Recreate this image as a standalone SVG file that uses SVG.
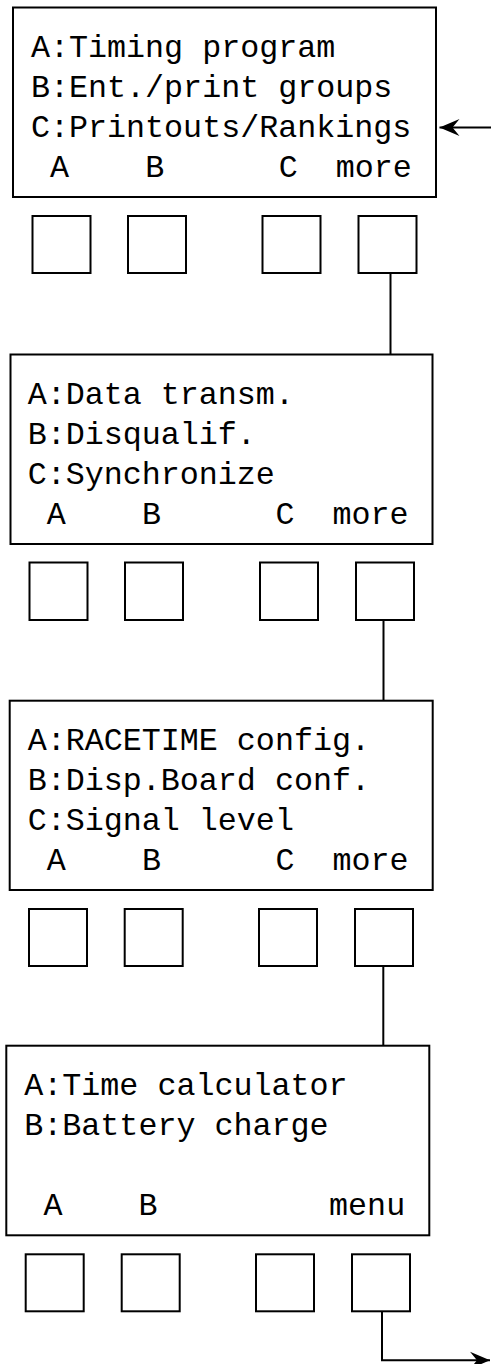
<svg xmlns="http://www.w3.org/2000/svg" width="491" height="1364" viewBox="0 0 491 1364">
<style>
  .panel { fill: #ffffff; stroke: #000000; stroke-width: 2; }
  .btn { fill: #ffffff; stroke: #000000; stroke-width: 2; }
  .lbl { font-family: "Liberation Mono", "Courier New", monospace; font-size: 31.7px; fill: #000000; }
  .wire { fill: none; stroke: #000000; stroke-width: 2; }
</style>
<defs>
  <marker id="arrow" markerUnits="userSpaceOnUse" viewBox="-20 -10 21 20" markerWidth="21" markerHeight="20" refX="0" refY="0" orient="auto">
    <path d="M0,0 L-20,-8.5 L-13,0 L-20,8.5 Z" fill="#000000"/>
  </marker>
</defs>
<rect width="491" height="1364" fill="#ffffff"/>

<g id="connectors">
  <line class="wire" x1="491" y1="127.5" x2="439.5" y2="127.5" marker-end="url(#arrow)"/>
  <line class="wire" x1="390.5" y1="273" x2="390.5" y2="354.5"/>
  <line class="wire" x1="383.5" y1="620" x2="383.5" y2="700.7"/>
  <line class="wire" x1="383.3" y1="966" x2="383.3" y2="1045.7"/>
  <path class="wire" d="M382,1311 V1360.3 H490" marker-end="url(#arrow)"/>
</g>

<g id="screen1">
  <rect class="panel" x="13" y="7.5" width="423" height="189.5"/>
  <text class="lbl" x="31" y="56.5">A:Timing program</text>
  <text class="lbl" x="31" y="97">B:Ent./print groups</text>
  <text class="lbl" x="31" y="137">C:Printouts/Rankings</text>
  <text class="lbl" x="50" y="176.5">A</text>
  <text class="lbl" x="145.3" y="176.5">B</text>
  <text class="lbl" x="278.7" y="176.5">C</text>
  <text class="lbl" x="335.8" y="176.5">more</text>
</g>
<g id="screen1-buttons">
  <rect class="btn" x="32.5" y="216" width="58" height="57"/>
  <rect class="btn" x="128" y="216" width="58" height="57"/>
  <rect class="btn" x="262.5" y="216" width="58" height="57"/>
  <rect class="btn" x="358.5" y="216" width="58" height="57"/>
</g>

<g id="screen2">
  <rect class="panel" x="10.5" y="354.5" width="422" height="189.5"/>
  <text class="lbl" x="27.7" y="403.5">A:Data transm.</text>
  <text class="lbl" x="27.7" y="444">B:Disqualif.</text>
  <text class="lbl" x="27.7" y="484">C:Synchronize</text>
  <text class="lbl" x="46.7" y="523.5">A</text>
  <text class="lbl" x="142" y="523.5">B</text>
  <text class="lbl" x="275.4" y="523.5">C</text>
  <text class="lbl" x="332.5" y="523.5">more</text>
</g>
<g id="screen2-buttons">
  <rect class="btn" x="29.5" y="562.5" width="58" height="57.5"/>
  <rect class="btn" x="125" y="562.5" width="58" height="57.5"/>
  <rect class="btn" x="260" y="562.5" width="58" height="57.5"/>
  <rect class="btn" x="356" y="562.5" width="58" height="57.5"/>
</g>

<g id="screen3">
  <rect class="panel" x="9.7" y="700.7" width="423" height="189.3"/>
  <text class="lbl" x="27.7" y="750">A:RACETIME config.</text>
  <text class="lbl" x="27.7" y="790">B:Disp.Board conf.</text>
  <text class="lbl" x="27.7" y="830">C:Signal level</text>
  <text class="lbl" x="46.7" y="870">A</text>
  <text class="lbl" x="142" y="870">B</text>
  <text class="lbl" x="275.4" y="870">C</text>
  <text class="lbl" x="332.5" y="870">more</text>
</g>
<g id="screen3-buttons">
  <rect class="btn" x="29" y="909" width="58" height="57"/>
  <rect class="btn" x="124.7" y="909" width="58" height="57"/>
  <rect class="btn" x="259" y="909" width="58" height="57"/>
  <rect class="btn" x="355" y="909" width="58" height="57"/>
</g>

<g id="screen4">
  <rect class="panel" x="6.3" y="1045.7" width="423" height="189.6"/>
  <text class="lbl" x="24.3" y="1095">A:Time calculator</text>
  <text class="lbl" x="24.3" y="1135">B:Battery charge</text>
  <text class="lbl" x="43.4" y="1215">A</text>
  <text class="lbl" x="138.6" y="1215">B</text>
  <text class="lbl" x="329.1" y="1215">menu</text>
</g>
<g id="screen4-buttons">
  <rect class="btn" x="25.7" y="1254.3" width="58" height="57"/>
  <rect class="btn" x="121.7" y="1254.3" width="58" height="57"/>
  <rect class="btn" x="256" y="1254.3" width="58" height="57"/>
  <rect class="btn" x="352" y="1254.3" width="58" height="57"/>
</g>
</svg>
